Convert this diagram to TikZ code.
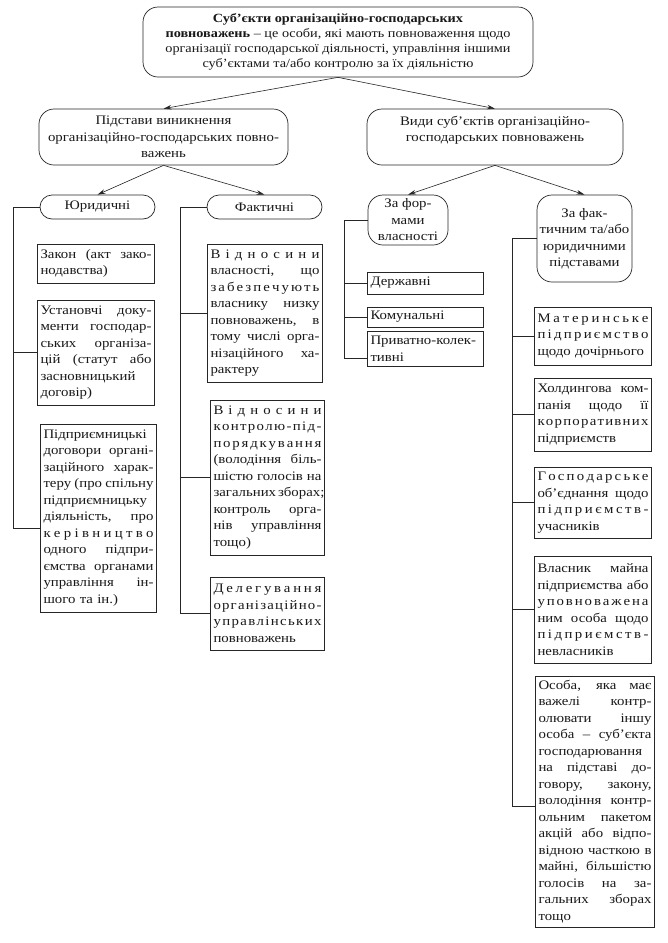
\documentclass[tikz,border=0pt]{standalone}
\usepackage{fontspec}
\setmainfont{Liberation Serif}[FakeStretch=1.14]
\usetikzlibrary{arrows.meta}
\makeatletter
\def\LS#1{\makebox[\hsize][s]{\LS@#1\@nil}}
\def\LS@#1#2{#1\ifx#2\@nil\expandafter\@gobble\else\hspace{0pt plus 1fil}\expandafter\@firstofone\fi{\LS@#2}}
\makeatother
\newcommand\J[1]{\makebox[\hsize][s]{\spaceskip=0.25em plus 1fil minus 0.1em\relax\xspaceskip=0.3em plus 1fil minus 0.1em\relax #1}}
\newcommand\fs{\fontsize{13}{16.5}\selectfont}
\tikzset{
  rb/.style={draw=black!85, line width=0.7pt, rounded corners=#1, align=center, inner sep=2pt, font=\fs, text=black!90},
  tb/.style={draw=black!85, line width=0.7pt, align=left, inner xsep=3pt, inner ysep=2pt, font=\fs, text=black!90},
  arr/.style={draw=black!85, -{Stealth[length=8pt,width=4.5pt]}, line width=0.6pt},
  ln/.style={draw=black!85, line width=0.7pt}
}
\begin{document}
\begin{tikzpicture}[x=1pt,y=-1pt]
\fill[white] (0,0) rectangle (668,943);
\useasboundingbox (0,0) rectangle (668,943);

% top
\node[rb=15pt, minimum width=390pt, minimum height=70pt, font=\fontsize{12.5}{15}\selectfont] (top) at (338,42)
 {{\bfseries Суб'єкти організаційно-господарських}\\{\bfseries повноважень} – це особи, які мають повноваження щодо\\організації господарської діяльності, управління іншими\\суб'єктами та/або контролю за їх діяльністю};

% level 2
\node[rb=15pt, minimum width=249pt, minimum height=56pt] (l2a) at (163.5,137)
 {Підстави виникнення\\організаційно-господарських повно-\\важень};
\node[rb=15pt, minimum width=256pt, minimum height=56pt] (l2b) at (495,137)
 {Види суб'єктів організаційно-\\господарських повноважень\\\phantom{x}};

% level 3
\node[rb=12pt, minimum width=115pt, minimum height=24pt] (yur) at (97.5,207) {Юридичні};
\node[rb=12pt, minimum width=115pt, minimum height=24pt] (fakt) at (264.5,207) {Фактичні};
\node[rb=15pt, minimum width=80pt, minimum height=50pt] (zf) at (408,220) {За фор-\\мами\\власності};
\node[rb=15pt, minimum width=95pt, minimum height=87pt] (zft) at (584.5,238.5) {За фак-\\тичним та/або\\юридичними\\підставами};

\draw[arr] (top.south) -- (l2a.north);
\draw[arr] (top.south) -- (l2b.north);
\draw[arr] (l2a.south) -- (yur.north);
\draw[arr] (l2a.south) -- (fakt.north);
\draw[arr] (l2b.south) -- (zf.north);
\draw[arr] (l2b.south) -- (zft.north);

% Юридичні column
\node[tb, text width=111pt, minimum height=39pt] (zakon) at (96,263.5)
 {\J{Закон (акт зако-}\\нодавства)};
\node[tb, text width=111pt, minimum height=105pt] (ust) at (96,352.5)
 {\J{Установчі доку-}\\\J{менти господар-}\\\J{ських організа-}\\\J{цій (статут або}\\\J{засновницький}\\договір)};
\node[tb, text width=110pt, minimum height=188pt] (pidpr) at (98.5,518)
 {\J{Підприємницькі}\\\J{договори органі-}\\\J{заційного харак-}\\\J{теру (про спільну}\\\J{підприємницьку}\\\J{діяльність, про}\\\LS{керівництво}\\\J{одного підпри-}\\\J{ємства органами}\\\J{управління ін-}\\шого та ін.)};

% Фактичні column
\node[tb, text width=109pt, minimum height=138pt] (vv) at (265,313)
 {\LS{Відносини}\\\J{власності, що}\\\LS{забезпечують}\\\J{власнику низку}\\\J{повноважень, в}\\\J{тому числі орга-}\\\J{нізаційного ха-}\\рактеру};
\node[tb, text width=108pt, minimum height=155pt] (kontr) at (267.5,477.5)
 {\LS{Відносини}\\\LS{контролю-під-}\\\LS{порядкування}\\\J{(володіння біль-}\\\J{шістю голосів на}\\\J{загальних зборах;}\\\J{контроль орга-}\\\J{нів управління}\\тощо)};
\node[tb, text width=108pt, minimum height=73pt] (deleg) at (267.5,613.5)
 {\LS{Делегування}\\\LS{організаційно-}\\\LS{управлінських}\\повноважень};

% За формами власності column
\node[tb, text width=110pt, minimum height=22pt] (derzh) at (425.5,283) {Державні};
\node[tb, text width=110pt, minimum height=20pt] (komun) at (425.5,317) {Комунальні};
\node[tb, text width=110pt, minimum height=35pt] (priv) at (425.5,348.5) {Приватно-колек-\\тивні};

% За фактичним column
\node[tb, text width=111pt, minimum height=58pt] (mater) at (593,336)
 {\LS{Материнське}\\\LS{підприємство}\\щодо дочірнього};
\node[tb, text width=111pt, minimum height=73pt] (hold) at (593,414.5)
 {\J{Холдингова ком-}\\\J{панія щодо її}\\\LS{корпоративних}\\підприємств};
\node[tb, text width=111pt, minimum height=71pt] (gosp) at (593,502.5)
 {\LS{Господарське}\\\J{об'єднання щодо}\\\LS{підприємств-}\\учасників};
\node[tb, text width=111pt, minimum height=107pt] (vlasn) at (593,609.5)
 {\J{Власник майна}\\\J{підприємства або}\\\LS{уповноважена}\\\J{ним особа щодо}\\\LS{підприємств-}\\невласників};
\node[tb, text width=113pt, minimum height=251pt] (osoba) at (595,801.5)
 {\J{Особа, яка має}\\\J{важелі контр-}\\\J{олювати іншу}\\\J{особа -- суб'єкта}\\\J{господарювання}\\\J{на підставі до-}\\\J{говору, закону,}\\\J{володіння контр-}\\\J{ольним пакетом}\\\J{акцій або відпо-}\\\J{відною часткою в}\\\J{майні, більшістю}\\\J{голосів на за-}\\\J{гальних зборах}\\тощо};

% tree lines
\coordinate (yl) at (13,207);
\draw[ln] (yur.west) -- (yl) |- ([yshift=-10pt]pidpr.west);
\draw[ln] (yl |- ust.west) -- (ust.west);

\coordinate (fl) at (180,207);
\draw[ln] (fakt.west) -- (fl) |- (deleg.west);
\draw[ln] (fl |- vv.west) -- (vv.west);
\draw[ln] (fl |- kontr.west) -- (kontr.west);

\coordinate (zl) at (344,220);
\draw[ln] (zf.west) -- (zl) |- ([yshift=-10pt]priv.west);
\draw[ln] (zl |- derzh.west) -- (derzh.west);
\draw[ln] (zl |- komun.west) -- (komun.west);

\coordinate (rl) at (512,238.5);
\draw[ln] (zft.west) -- (rl) |- ([yshift=-5pt]osoba.west);
\draw[ln] (rl |- mater.west) -- (mater.west);
\draw[ln] (rl |- hold.west) -- (hold.west);
\draw[ln] (rl |- gosp.west) -- (gosp.west);
\draw[ln] (rl |- vlasn.west) -- (vlasn.west);
\end{tikzpicture}
\end{document}
